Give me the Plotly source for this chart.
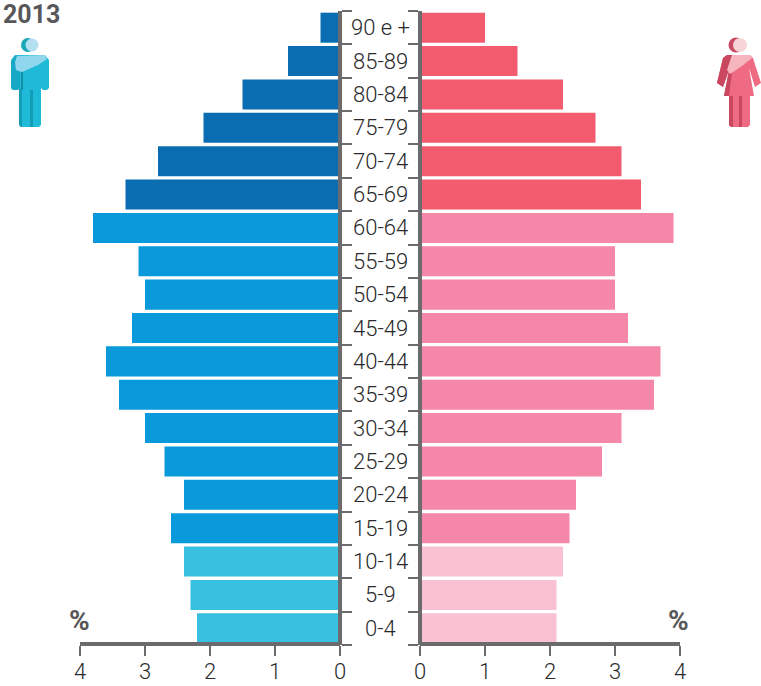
import plotly.graph_objects as go

ages = ["0-4","5-9","10-14","15-19","20-24","25-29","30-34","35-39","40-44","45-49",
        "50-54","55-59","60-64","65-69","70-74","75-79","80-84","85-89","90 e +"]
male = [2.2,2.3,2.4,2.6,2.4,2.7,3.0,3.4,3.6,3.2,3.0,3.1,3.8,3.3,2.8,2.1,1.5,0.8,0.3]
female = [2.1,2.1,2.2,2.3,2.4,2.8,3.1,3.6,3.7,3.2,3.0,3.0,3.9,3.4,3.1,2.7,2.2,1.5,1.0]
male_colors = ["#38c0e0"]*3 + ["#0a9adb"]*10 + ["#0a6db2"]*6
female_colors = ["#f9c1d2"]*3 + ["#f587a9"]*10 + ["#f25c6e"]*6
x_ticks = [0,1,2,3,4]
year = "2013"

W, H = 761, 686
GREY = "#6b6b6d"
TXT = "#2a2a2c"
FONT = "Roboto"

def px(x): return x / W
def py(y): return 1 - y / H

fig = go.Figure()
fig.add_bar(y=ages, x=male, orientation="h", marker=dict(color=male_colors, line_width=0),
            xaxis="x", yaxis="y", hoverinfo="x+y", showlegend=False)
fig.add_bar(y=ages, x=female, orientation="h", marker=dict(color=female_colors, line_width=0),
            xaxis="x2", yaxis="y2", hoverinfo="x+y", showlegend=False)

xcommon = dict(tickmode="array", tickvals=x_ticks, ticktext=[str(t) for t in x_ticks],
               ticks="outside", ticklen=10, tickwidth=2, tickcolor=GREY,
               showline=True, linewidth=3.5, linecolor=GREY, showgrid=False, zeroline=False,
               tickfont=dict(family=FONT, size=22, color=TXT, weight=300), side="bottom",
               automargin=False, ticklabelstandoff=-3, anchor="free", position=py(644))
ycommon = dict(type="category", categoryorder="array", categoryarray=ages,
               tickson="boundaries", ticks="outside", ticklen=10, tickwidth=2, tickcolor=GREY,
               showline=True, linewidth=4, linecolor=GREY, showgrid=False, zeroline=False,
               showticklabels=False, domain=[py(645), py(11)], automargin=False, anchor="free")

ann = [dict(x=px(380), y=a, xref="paper", yref="y", text=a, showarrow=False,
            xanchor="center", yanchor="middle",
            font=dict(family=FONT, size=22, color=TXT, weight=300)) for a in ages]
ann += [
    dict(x=px(1), y=py(15), xref="paper", yref="paper", text="<b>%s</b>" % year, showarrow=False,
         xanchor="left", yanchor="middle", font=dict(family=FONT, size=25, color="#58585a")),
    dict(x=px(79), y=py(620), xref="paper", yref="paper", text="<b>%</b>", showarrow=False,
         xanchor="center", yanchor="middle", font=dict(family=FONT, size=28, color="#58585a")),
    dict(x=px(678), y=py(620), xref="paper", yref="paper", text="<b>%</b>", showarrow=False,
         xanchor="center", yanchor="middle", font=dict(family=FONT, size=28, color="#58585a")),
]

def poly(points, color):
    d = "M" + " L".join(f"{px(x):.5f},{py(y):.5f}" for x, y in points) + " Z"
    return dict(type="path", xref="paper", yref="paper", path=d, fillcolor=color, line_width=0, layer="above")

def circle(cx, cy, r, color):
    return dict(type="circle", xref="paper", yref="paper", x0=px(cx-r), x1=px(cx+r),
                y0=py(cy+r), y1=py(cy-r), fillcolor=color, line_width=0, layer="above")

shapes = [
    # man
    circle(28, 45, 7, "#1aa8b8"), circle(32, 45, 6.5, "#b5e0f2"),
    poly([(15,55),(45,55),(49,60),(49,88),(47,90),(43,90),(41,88),(41,125),(39,127),(21,127),(19,125),(19,88),(17,90),(13,90),(11,88),(11,60)], "#1fbad8"),
    poly([(11,62),(15,56),(20,56),(20,89),(17,90),(13,90),(11,88)], "#18a9c6"),
    poly([(21,66),(23,66),(23,90),(21,90)], "#118fa9"),
    poly([(19,89),(22,89),(22,127),(21,127),(19,125)], "#129db5"),
    poly([(30,90),(33,90),(33,127),(30,127)], "#129db5"),
    poly([(17,56),(45,55),(47,59),(38,65),(22,72),(16,70),(15,62)], "#90d7ee"),
    # woman
    circle(736, 45, 7.5, "#c94a62"), circle(740, 45, 7, "#f7d4d6"),
    poly([(727,55),(750,55),(753,58),(761,83),(755,87),(749,68),(754,96),(724,96),(729,70),(723,87),(717,83),(723,58)], "#ef6b84"),
    poly([(723,58),(727,55),(733,55),(729,70),(723,87),(717,83)], "#c9485f"),
    poly([(729,70),(732,72),(729,96),(724,96)], "#c9485f"),
    poly([(729,96),(750,96),(750,125),(748,127),(731,127),(729,125)], "#ef6b84"),
    poly([(729,96),(733,96),(733,127),(731,127),(729,125)], "#c9485f"),
    poly([(739,96),(742,96),(742,127),(739,127)], "#c9485f"),
    poly([(732,55),(750,55),(752,58),(742,66),(730,74),(727,70)], "#f6b5bd"),
]

fig.update_layout(
    width=W, height=H, autosize=False,
    margin=dict(l=0, r=0, t=0, b=0, pad=0, autoexpand=False),
    paper_bgcolor="white", plot_bgcolor="white",
    bargap=0.1, showlegend=False,
    xaxis=dict(domain=[px(80), px(340)], range=[4, 0], **xcommon),
    xaxis2=dict(domain=[px(420), px(680)], range=[0, 4], **xcommon),
    yaxis=dict(side="right", position=px(340), **ycommon),
    yaxis2=dict(side="left", position=px(420), **ycommon),
    annotations=ann, shapes=shapes,
)
fig.write_html("out.html", config={"displayModeBar": False},
               post_script="document.body.style.margin='0';document.documentElement.style.overflow='hidden';")
